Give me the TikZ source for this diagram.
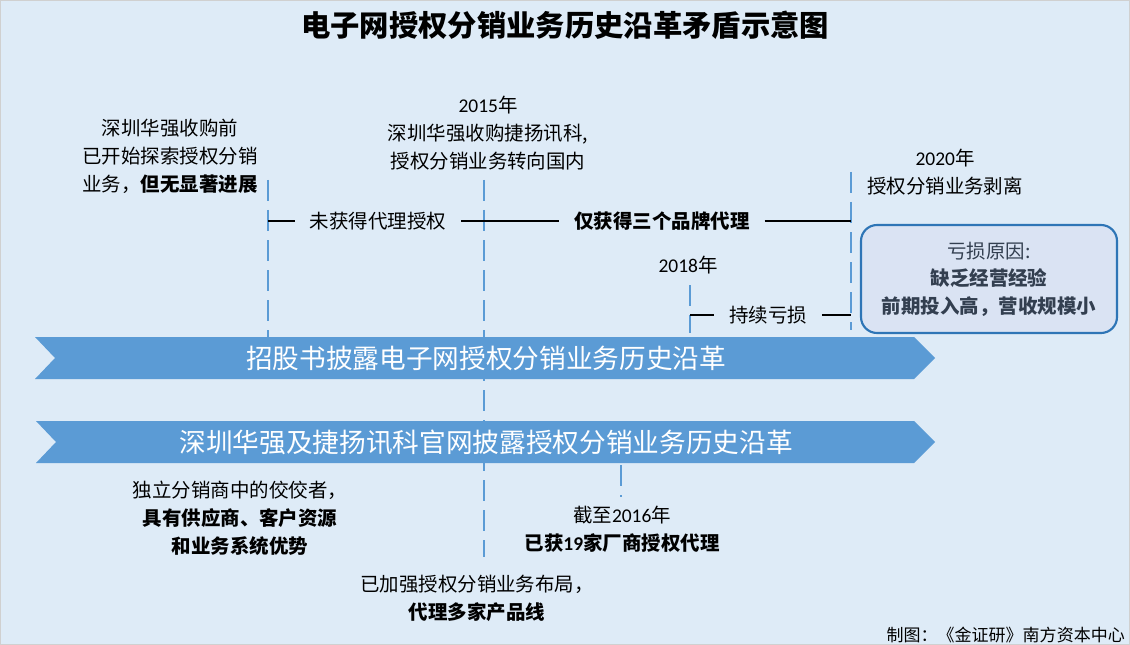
\documentclass[tikz,border=0pt]{standalone}
\usepackage{fontspec}
\setmainfont{Noto Sans CJK SC}
\newfontfamily\latf{Carlito}
\definecolor{bg}{HTML}{DEEBF7}
\definecolor{frame}{HTML}{D0D0D0}
\definecolor{arrowblue}{HTML}{5B9BD5}
\definecolor{dashblue}{HTML}{5B9BD5}
\definecolor{boxfill}{HTML}{DAE3F3}
\definecolor{boxdraw}{HTML}{2E75B6}
\definecolor{boxtext}{HTML}{333F50}
\begin{document}
\begin{tikzpicture}[x=0.75pt,y=-0.75pt,
  txt/.style={font=\fontsize{14.6}{21}\selectfont, align=center, inner sep=0pt, text=black},
  lbl/.style={txt, inner xsep=11pt, inner ysep=0pt},
  vdash/.style={draw=dashblue, line width=1.8pt, dash pattern=on 16pt off 6.5pt},
  hline/.style={draw=black, line width=1.1pt},
  band/.style={fill=arrowblue},
  bandtxt/.style={font=\fontsize{20}{24}\selectfont, text=white, inner sep=0pt},
  reasonbox/.style={draw=boxdraw, line width=1.6pt, fill=boxfill, rounded corners=12pt,
    minimum width=192pt, minimum height=81pt, inner sep=0pt, align=center,
    text=boxtext, font=\fontsize{14.6}{20.6}\selectfont}
]
\useasboundingbox (0,0) rectangle (1130,645);
\fill[bg, draw=frame, line width=1pt] (0.7,0.7) rectangle (1129.3,644.3);

% title
\node[font=\fontsize{22}{26}\selectfont\bfseries, inner sep=0pt] (title) at (565,25) {电子网授权分销业务历史沿革矛盾示意图};

% vertical dashed timeline markers
\coordinate (a1) at (268,180); \coordinate (a2) at (268,337);
\coordinate (b1) at (484,180); \coordinate (b2) at (484,557);
\coordinate (c1) at (621,465); \coordinate (c2) at (621,497);
\coordinate (d1) at (690,285); \coordinate (d2) at (690,333);
\coordinate (e1) at (851,172); \coordinate (e2) at (851,330);
\draw[vdash] (a1) -- (a2);
\draw[vdash] (b1) -- (b2);
\draw[vdash] (c1) -- (c2);
\draw[vdash] (d1) -- (d2);
\draw[vdash] (e1) -- (e2);

% horizontal period lines
\coordinate (h1s) at (268,221); \coordinate (h1e) at (851,221);
\node[lbl] (n1) at (378,221) {未获得代理授权};
\node[lbl, font=\fontsize{14.6}{21}\selectfont\bfseries] (n2) at (662,221) {仅获得三个品牌代理};
\draw[hline] (h1s) -- (n1.west);
\draw[hline] (n1.east) -- (n2.west);
\draw[hline] (n2.east) -- (h1e);

\coordinate (h2s) at (690,315); \coordinate (h2e) at (851,315);
\node[lbl] (n3) at (768,315) {持续亏损};
\draw[hline] (h2s) -- (n3.west);
\draw[hline] (n3.east) -- (h2e);

% bands
\fill[band] (35,337) -- (914,337) -- (935,358) -- (914,379) -- (35,379) -- (55,358) -- cycle;
\node[bandtxt] (t1) at (486,358) {招股书披露电子网授权分销业务历史沿革};
\fill[band] (36,421) -- (914,421) -- (935,442) -- (914,463) -- (36,463) -- (56,442) -- cycle;
\node[bandtxt] (t2) at (486,442) {深圳华强及捷扬讯科官网披露授权分销业务历史沿革};

% reason box
\node[reasonbox] (box) at (989,279) {亏损原因:\\\textbf{缺乏经营经验}\\\textbf{前期投入高，营收规模小}};

% upper labels
\node[txt] (p1) at (170,156) {深圳华强收购前\\已开始探索授权分销\\业务，\textbf{但无显著进展}};
\node[txt] (p2) at (488,133) {{\latf 2015}年\\深圳华强收购捷扬讯科,\\授权分销业务转向国内};
\node[txt] (p3) at (945,172) {{\latf 2020}年\\授权分销业务剥离};
\node[txt] (p4) at (688,265) {{\latf 2018}年};

% lower labels
\node[txt] (p5) at (240,518) {独立分销商中的佼佼者，\\\textbf{具有供应商、客户资源}\\\textbf{和业务系统优势}};
\node[txt] (p6) at (622,529) {截至{\latf 2016}年\\\textbf{已获{\latf 19}家厂商授权代理}};
\node[txt] (p7) at (477,598.5) {已加强授权分销业务布局，\\\textbf{代理多家产品线}};

% footer
\node[txt, anchor=east, font=\fontsize{12.75}{15}\selectfont] (foot) at (1125,635) {制图：《金证研》南方资本中心};
\end{tikzpicture}
\end{document}
